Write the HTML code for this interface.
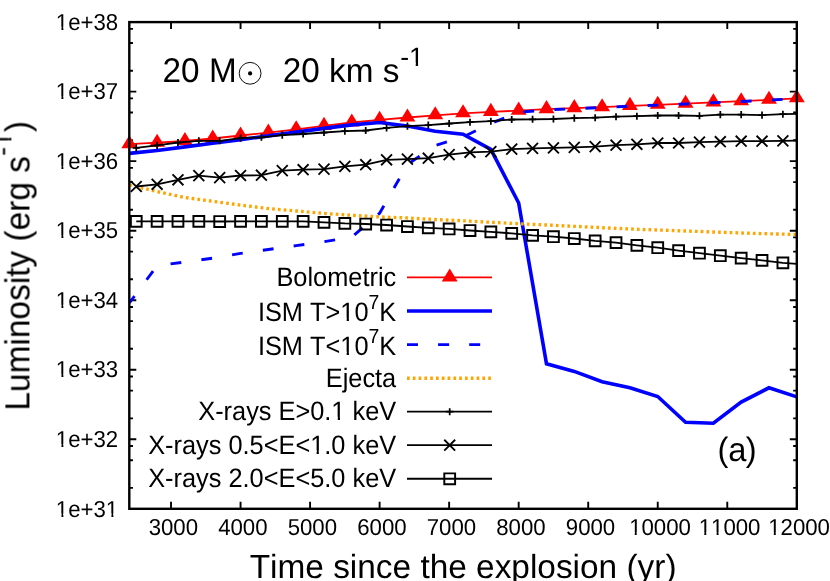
<!DOCTYPE html>
<html lang="en">
<head>
<meta charset="utf-8">
<title>Luminosity vs. time since the explosion</title>
<style>
html,body{margin:0;padding:0;background:#fff;}
body{width:830px;height:581px;overflow:hidden;font-family:"Liberation Sans",sans-serif;}
svg{display:block;}
</style>
</head>
<body>
<svg width="830" height="581" viewBox="0 0 830 581" role="img" aria-label="Luminosity versus time since the explosion">
<rect width="830" height="581" fill="#fff"/>
<g font-family='"Liberation Sans", sans-serif' fill="#000" text-rendering="geometricPrecision">
<path fill="none" stroke="#000" stroke-width="1.9" d="M129.3 487.87h3.65M796.8 487.87h-3.65M129.3 460.2h3.65M796.8 460.2h-3.65M129.3 446.01h3.65M796.8 446.01h-3.65M129.3 439.27h7M796.8 439.27h-7M129.3 418.34h3.65M796.8 418.34h-3.65M129.3 390.67h3.65M796.8 390.67h-3.65M129.3 376.48h3.65M796.8 376.48h-3.65M129.3 369.74h7M796.8 369.74h-7M129.3 348.81h3.65M796.8 348.81h-3.65M129.3 321.14h3.65M796.8 321.14h-3.65M129.3 306.95h3.65M796.8 306.95h-3.65M129.3 300.21h7M796.8 300.21h-7M129.3 279.28h3.65M796.8 279.28h-3.65M129.3 251.62h3.65M796.8 251.62h-3.65M129.3 237.42h3.65M796.8 237.42h-3.65M129.3 230.69h7M796.8 230.69h-7M129.3 209.76h3.65M796.8 209.76h-3.65M129.3 182.09h3.65M796.8 182.09h-3.65M129.3 167.9h3.65M796.8 167.9h-3.65M129.3 161.16h7M796.8 161.16h-7M129.3 140.23h3.65M796.8 140.23h-3.65M129.3 112.56h3.65M796.8 112.56h-3.65M129.3 98.37h3.65M796.8 98.37h-3.65M129.3 91.63h7M796.8 91.63h-7M129.3 70.7h3.65M796.8 70.7h-3.65M129.3 43.03h3.65M796.8 43.03h-3.65M129.3 28.84h3.65M796.8 28.84h-3.65M171.02 508.8v-7M171.02 22.1v7M240.55 508.8v-7M240.55 22.1v7M310.08 508.8v-7M310.08 22.1v7M379.61 508.8v-7M379.61 22.1v7M449.14 508.8v-7M449.14 22.1v7M518.67 508.8v-7M518.67 22.1v7M588.21 508.8v-7M588.21 22.1v7M657.74 508.8v-7M657.74 22.1v7M727.27 508.8v-7M727.27 22.1v7"/>
<polyline fill="none" stroke="#f00" stroke-width="1.8" points="129.3,144.2 157.11,142.7 184.93,141 212.74,138.5 240.55,135.5 268.36,132.6 296.18,129.3 323.99,125.9 351.8,122.5 379.61,119.8 407.43,117.5 435.24,115.3 463.05,113.3 490.86,111.9 518.67,110.6 546.49,109.1 574.3,108.1 602.11,107.2 629.92,105.9 657.74,104.8 685.55,103.7 713.36,102.4 741.17,101.2 768.99,99.8 796.8,98.3"/>
<g fill="#f00"><path d="M129.3 135.13L121.35 148.25L137.25 148.25Z"/><path d="M157.11 133.63L149.16 146.75L165.06 146.75Z"/><path d="M184.93 131.93L176.98 145.05L192.88 145.05Z"/><path d="M212.74 129.43L204.79 142.55L220.69 142.55Z"/><path d="M240.55 126.43L232.6 139.55L248.5 139.55Z"/><path d="M268.36 123.53L260.41 136.65L276.31 136.65Z"/><path d="M296.18 120.23L288.23 133.35L304.12 133.35Z"/><path d="M323.99 116.83L316.04 129.95L331.94 129.95Z"/><path d="M351.8 113.43L343.85 126.55L359.75 126.55Z"/><path d="M379.61 110.73L371.66 123.85L387.56 123.85Z"/><path d="M407.43 108.43L399.48 121.55L415.38 121.55Z"/><path d="M435.24 106.23L427.29 119.35L443.19 119.35Z"/><path d="M463.05 104.23L455.1 117.35L471 117.35Z"/><path d="M490.86 102.83L482.91 115.95L498.81 115.95Z"/><path d="M518.67 101.53L510.72 114.65L526.62 114.65Z"/><path d="M546.49 100.03L538.54 113.15L554.44 113.15Z"/><path d="M574.3 99.03L566.35 112.15L582.25 112.15Z"/><path d="M602.11 98.13L594.16 111.25L610.06 111.25Z"/><path d="M629.92 96.83L621.97 109.95L637.88 109.95Z"/><path d="M657.74 95.73L649.79 108.85L665.69 108.85Z"/><path d="M685.55 94.63L677.6 107.75L693.5 107.75Z"/><path d="M713.36 93.33L705.41 106.45L721.31 106.45Z"/><path d="M741.17 92.13L733.22 105.25L749.12 105.25Z"/><path d="M768.99 90.73L761.04 103.85L776.94 103.85Z"/><path d="M796.8 89.23L788.85 102.35L804.75 102.35Z"/></g>
<polyline fill="none" stroke="#00f" stroke-width="3.6" stroke-linejoin="miter" points="129.3,153.4 157.11,150.5 184.93,146.9 212.74,143.3 240.55,139.6 268.36,135.9 296.18,132.1 323.99,128.4 351.8,124.9 379.61,122.5 407.43,126.1 435.24,131.2 463.05,134.2 490.86,149.4 518.67,203 546.49,363.7 574.3,371.4 602.11,381.7 629.92,387.8 657.74,396.5 685.55,422.3 713.36,423.3 741.17,402.1 768.99,387.8 796.8,396.9"/>
<polyline fill="none" stroke="#00f" stroke-width="2.9" stroke-dasharray="10.8 20.3" stroke-dashoffset="2.1" points="129.3,303 157.11,265.7 184.93,262 212.74,258.1 240.55,253.4 268.36,249.5 296.18,245.6 323.99,241.7 351.8,237 379.61,213.2 407.43,164.5 435.24,145.5 463.05,137 490.86,123.5 518.67,112.3 546.49,109.9 574.3,108.7 602.11,107.5 629.92,106.2 657.74,105.1 685.55,104 713.36,102.7 741.17,101.5 768.99,100.1 796.8,98.6"/>
<polyline fill="none" stroke="#ffa500" stroke-width="3.35" stroke-dasharray="2.7 3.1" points="129.3,184.9 157.11,191.6 184.93,197.5 212.74,201.3 240.55,205.1 268.36,208.6 296.18,211 323.99,213.4 351.8,215.3 379.61,216.9 407.43,218 435.24,219.5 463.05,220.8 490.86,222.3 518.67,223.7 546.49,225 574.3,226.3 602.11,227.7 629.92,229 657.74,230 685.55,231 713.36,232 741.17,233 768.99,233.8 796.8,234.5"/>
<polyline fill="none" stroke="#000" stroke-width="1.8" points="136.25,147.9 157.11,145.4 177.97,142.5 198.83,140.8 219.69,140.8 240.55,138.1 261.41,137.3 282.27,135.1 303.13,134 323.99,132.5 344.85,131.15 365.71,130.5 386.57,127.9 407.43,126.1 428.28,125.1 449.14,123.5 470,122.2 490.86,121.2 511.72,119.5 532.58,119.3 553.44,119 574.3,118.1 595.16,117.7 616.02,116.7 636.88,116.2 657.74,115.5 678.6,115.5 699.46,115.8 720.32,114.6 741.17,114.6 762.03,115.1 782.89,114.2 796.8,113.9"/>
<path fill="none" stroke="#000" stroke-width="1.75" d="M136.25 144.35V151.45M132.7 147.9H139.8M157.11 141.85V148.95M153.56 145.4H160.66M177.97 138.95V146.05M174.42 142.5H181.52M198.83 137.25V144.35M195.28 140.8H202.38M219.69 137.25V144.35M216.14 140.8H223.24M240.55 134.55V141.65M237 138.1H244.1M261.41 133.75V140.85M257.86 137.3H264.96M282.27 131.55V138.65M278.72 135.1H285.82M303.13 130.45V137.55M299.58 134H306.68M323.99 128.95V136.05M320.44 132.5H327.54M344.85 127.6V134.7M341.3 131.15H348.4M365.71 126.95V134.05M362.16 130.5H369.26M386.57 124.35V131.45M383.02 127.9H390.12M407.43 122.55V129.65M403.88 126.1H410.98M428.28 121.55V128.65M424.73 125.1H431.83M449.14 119.95V127.05M445.59 123.5H452.69M470 118.65V125.75M466.45 122.2H473.55M490.86 117.65V124.75M487.31 121.2H494.41M511.72 115.95V123.05M508.17 119.5H515.27M532.58 115.75V122.85M529.03 119.3H536.13M553.44 115.45V122.55M549.89 119H556.99M574.3 114.55V121.65M570.75 118.1H577.85M595.16 114.15V121.25M591.61 117.7H598.71M616.02 113.15V120.25M612.47 116.7H619.57M636.88 112.65V119.75M633.33 116.2H640.43M657.74 111.95V119.05M654.19 115.5H661.29M678.6 111.95V119.05M675.05 115.5H682.15M699.46 112.25V119.35M695.91 115.8H703.01M720.32 111.05V118.15M716.77 114.6H723.87M741.17 111.05V118.15M737.62 114.6H744.72M762.03 111.55V118.65M758.48 115.1H765.58M782.89 110.65V117.75M779.34 114.2H786.44"/>
<polyline fill="none" stroke="#000" stroke-width="1.8" points="136.25,186.5 157.11,184.3 177.97,179.8 198.83,175.6 219.69,177.6 240.55,175.5 261.41,175.2 282.27,170.6 303.13,169.7 323.99,169.1 344.85,166.4 365.71,164.7 386.57,159.8 407.43,159.1 428.28,158.2 449.14,154.6 470,152.3 490.86,151.6 511.72,149.1 532.58,148.4 553.44,147.9 574.3,147.4 595.16,146.6 616.02,145.2 636.88,144.3 657.74,143 678.6,143 699.46,142.1 720.32,141.7 741.17,141.2 762.03,141.2 782.89,140.9 796.8,140.7"/>
<path fill="none" stroke="#000" stroke-width="1.85" d="M130.8 181.05L141.7 191.95M130.8 191.95L141.7 181.05M151.66 178.85L162.56 189.75M151.66 189.75L162.56 178.85M172.52 174.35L183.42 185.25M172.52 185.25L183.42 174.35M193.38 170.15L204.28 181.05M193.38 181.05L204.28 170.15M214.24 172.15L225.14 183.05M214.24 183.05L225.14 172.15M235.1 170.05L246 180.95M235.1 180.95L246 170.05M255.96 169.75L266.86 180.65M255.96 180.65L266.86 169.75M276.82 165.15L287.72 176.05M276.82 176.05L287.72 165.15M297.68 164.25L308.58 175.15M297.68 175.15L308.58 164.25M318.54 163.65L329.44 174.55M318.54 174.55L329.44 163.65M339.4 160.95L350.3 171.85M339.4 171.85L350.3 160.95M360.26 159.25L371.16 170.15M360.26 170.15L371.16 159.25M381.12 154.35L392.02 165.25M381.12 165.25L392.02 154.35M401.98 153.65L412.88 164.55M401.98 164.55L412.88 153.65M422.83 152.75L433.73 163.65M422.83 163.65L433.73 152.75M443.69 149.15L454.59 160.05M443.69 160.05L454.59 149.15M464.55 146.85L475.45 157.75M464.55 157.75L475.45 146.85M485.41 146.15L496.31 157.05M485.41 157.05L496.31 146.15M506.27 143.65L517.17 154.55M506.27 154.55L517.17 143.65M527.13 142.95L538.03 153.85M527.13 153.85L538.03 142.95M547.99 142.45L558.89 153.35M547.99 153.35L558.89 142.45M568.85 141.95L579.75 152.85M568.85 152.85L579.75 141.95M589.71 141.15L600.61 152.05M589.71 152.05L600.61 141.15M610.57 139.75L621.47 150.65M610.57 150.65L621.47 139.75M631.43 138.85L642.33 149.75M631.43 149.75L642.33 138.85M652.29 137.55L663.19 148.45M652.29 148.45L663.19 137.55M673.15 137.55L684.05 148.45M673.15 148.45L684.05 137.55M694.01 136.65L704.91 147.55M694.01 147.55L704.91 136.65M714.87 136.25L725.77 147.15M714.87 147.15L725.77 136.25M735.72 135.75L746.62 146.65M735.72 146.65L746.62 135.75M756.58 135.75L767.48 146.65M756.58 146.65L767.48 135.75M777.44 135.45L788.34 146.35M777.44 146.35L788.34 135.45"/>
<polyline fill="none" stroke="#000" stroke-width="1.8" points="136.25,221.4 157.11,221.4 177.97,221.4 198.83,221.4 219.69,221.5 240.55,221.3 261.41,221.3 282.27,221.3 303.13,221.3 323.99,222.3 344.85,223.4 365.71,224 386.57,225 407.43,226.5 428.28,227.8 449.14,228.95 470,230.5 490.86,231.9 511.72,233.4 532.58,235.3 553.44,236.7 574.3,238.5 595.16,240.8 616.02,242.6 636.88,245.3 657.74,247.7 678.6,250.6 699.46,253.2 720.32,255.7 741.17,258.1 762.03,260.4 782.89,262.9 796.8,263.9"/>
<path fill="none" stroke="#000" stroke-width="1.95" d="M130.85 216H141.65V226.8H130.85ZM151.71 216H162.51V226.8H151.71ZM172.57 216H183.37V226.8H172.57ZM193.43 216H204.23V226.8H193.43ZM214.29 216.1H225.09V226.9H214.29ZM235.15 215.9H245.95V226.7H235.15ZM256.01 215.9H266.81V226.7H256.01ZM276.87 215.9H287.67V226.7H276.87ZM297.73 215.9H308.53V226.7H297.73ZM318.59 216.9H329.39V227.7H318.59ZM339.45 218H350.25V228.8H339.45ZM360.31 218.6H371.11V229.4H360.31ZM381.17 219.6H391.97V230.4H381.17ZM402.03 221.1H412.82V231.9H402.03ZM422.88 222.4H433.68V233.2H422.88ZM443.74 223.55H454.54V234.35H443.74ZM464.6 225.1H475.4V235.9H464.6ZM485.46 226.5H496.26V237.3H485.46ZM506.32 228H517.12V238.8H506.32ZM527.18 229.9H537.98V240.7H527.18ZM548.04 231.3H558.84V242.1H548.04ZM568.9 233.1H579.7V243.9H568.9ZM589.76 235.4H600.56V246.2H589.76ZM610.62 237.2H621.42V248H610.62ZM631.48 239.9H642.28V250.7H631.48ZM652.34 242.3H663.14V253.1H652.34ZM673.2 245.2H684V256H673.2ZM694.06 247.8H704.86V258.6H694.06ZM714.92 250.3H725.72V261.1H714.92ZM735.77 252.7H746.57V263.5H735.77ZM756.63 255H767.43V265.8H756.63ZM777.49 257.5H788.29V268.3H777.49Z"/>
<path fill="none" d="M407 277.45H492" stroke="#f00" stroke-width="1.8"/>
<g fill="#f00"><path d="M449.7 268.38L441.75 281.5L457.65 281.5Z"/></g>
<path fill="none" d="M407 311.05H492" stroke="#00f" stroke-width="3.6"/>
<path fill="none" d="M407 344.6H492" stroke="#00f" stroke-width="2.9" stroke-dasharray="11 20.1"/>
<path fill="none" d="M407 378.2H492" stroke="#ffa500" stroke-width="3.35" stroke-dasharray="2.7 3.1"/>
<path fill="none" d="M407 411.7H492" stroke="#000" stroke-width="1.8"/>
<path fill="none" stroke="#000" stroke-width="1.75" d="M449.7 408.15V415.25M446.15 411.7H453.25"/>
<path fill="none" d="M407 445.2H492" stroke="#000" stroke-width="1.8"/>
<path fill="none" stroke="#000" stroke-width="1.85" d="M444.25 439.75L455.15 450.65M444.25 450.65L455.15 439.75"/>
<path fill="none" d="M407 478.75H492" stroke="#000" stroke-width="1.8"/>
<path fill="none" stroke="#000" stroke-width="1.95" d="M444.3 473.35H455.1V484.15H444.3Z"/>
<rect x="129.3" y="22.1" width="667.5" height="486.7" fill="none" stroke="#000" stroke-width="2.4"/>
<circle cx="250.1" cy="73.3" r="10.9" fill="none" stroke="#000" stroke-width="0.95"/>
<circle cx="250.1" cy="73.4" r="2.1"/>
<g style="filter:grayscale(1);font-kerning:none">
<g transform="translate(396.2 285.85) scale(1 1.05)"><text x="-119.74" font-size="25.35">Bolometric</text></g>
<g transform="translate(396.2 321.45) scale(1 1.05)"><text x="-138.29" font-size="25.35">ISM T&gt;10</text><text x="-27.7" y="-11.47" font-size="19.4">7</text><text x="-16.91" font-size="25.35">K</text><g fill="#fff"><rect x="-55.16" y="-3.14" width="5.64" height="4.34"/><rect x="-47.28" y="-3.14" width="5.45" height="4.34"/></g></g>
<g transform="translate(396.2 354.8) scale(1 1.05)"><text x="-138.29" font-size="25.35">ISM T&lt;10</text><text x="-27.7" y="-11.47" font-size="19.4">7</text><text x="-16.91" font-size="25.35">K</text><g fill="#fff"><rect x="-55.16" y="-3.14" width="5.64" height="4.34"/><rect x="-47.28" y="-3.14" width="5.45" height="4.34"/></g></g>
<g transform="translate(396.2 386.6) scale(1 1.05)"><text x="-70.46" font-size="25.35">Ejecta</text></g>
<g transform="translate(396.2 420.1) scale(1 1.05)"><text x="-197.96" font-size="25.35">X-rays E&gt;0.1 keV</text><g fill="#fff"><rect x="-64.09" y="-3.14" width="5.64" height="4.34"/><rect x="-56.21" y="-3.14" width="5.45" height="4.34"/></g></g>
<g transform="translate(396.2 453.6) scale(1 1.05)"><text x="-248" font-size="25.35">X-rays 0.5&lt;E&lt;1.0 keV</text><g fill="#fff"><rect x="-85.23" y="-3.14" width="5.64" height="4.34"/><rect x="-77.35" y="-3.14" width="5.45" height="4.34"/></g></g>
<g transform="translate(396.2 487.15) scale(1 1.05)"><text x="-248" font-size="25.35">X-rays 2.0&lt;E&lt;5.0 keV</text></g>
<g transform="translate(118.2 516.5) scale(1 1.04)"><text x="-62.35" font-size="22.2">1e+31</text><g fill="#fff"><rect x="-61.86" y="-2.91" width="5.09" height="4.11"/><rect x="-54.81" y="-2.91" width="4.92" height="4.11"/><rect x="-11.86" y="-2.91" width="5.09" height="4.11"/><rect x="-4.8" y="-2.91" width="4.92" height="4.11"/></g></g>
<g transform="translate(118.2 446.97) scale(1 1.04)"><text x="-62.35" font-size="22.2">1e+32</text><g fill="#fff"><rect x="-61.86" y="-2.91" width="5.09" height="4.11"/><rect x="-54.81" y="-2.91" width="4.92" height="4.11"/></g></g>
<g transform="translate(118.2 377.44) scale(1 1.04)"><text x="-62.35" font-size="22.2">1e+33</text><g fill="#fff"><rect x="-61.86" y="-2.91" width="5.09" height="4.11"/><rect x="-54.81" y="-2.91" width="4.92" height="4.11"/></g></g>
<g transform="translate(118.2 307.91) scale(1 1.04)"><text x="-62.35" font-size="22.2">1e+34</text><g fill="#fff"><rect x="-61.86" y="-2.91" width="5.09" height="4.11"/><rect x="-54.81" y="-2.91" width="4.92" height="4.11"/></g></g>
<g transform="translate(118.2 238.39) scale(1 1.04)"><text x="-62.35" font-size="22.2">1e+35</text><g fill="#fff"><rect x="-61.86" y="-2.91" width="5.09" height="4.11"/><rect x="-54.81" y="-2.91" width="4.92" height="4.11"/></g></g>
<g transform="translate(118.2 168.86) scale(1 1.04)"><text x="-62.35" font-size="22.2">1e+36</text><g fill="#fff"><rect x="-61.86" y="-2.91" width="5.09" height="4.11"/><rect x="-54.81" y="-2.91" width="4.92" height="4.11"/></g></g>
<g transform="translate(118.2 99.33) scale(1 1.04)"><text x="-62.35" font-size="22.2">1e+37</text><g fill="#fff"><rect x="-61.86" y="-2.91" width="5.09" height="4.11"/><rect x="-54.81" y="-2.91" width="4.92" height="4.11"/></g></g>
<g transform="translate(118.2 29.8) scale(1 1.04)"><text x="-62.35" font-size="22.2">1e+38</text><g fill="#fff"><rect x="-61.86" y="-2.91" width="5.09" height="4.11"/><rect x="-54.81" y="-2.91" width="4.92" height="4.11"/></g></g>
<g transform="translate(173.32 535.4) scale(1 1.04)"><text x="-24.69" font-size="22.2">3000</text></g>
<g transform="translate(242.85 535.4) scale(1 1.04)"><text x="-24.69" font-size="22.2">4000</text></g>
<g transform="translate(312.38 535.4) scale(1 1.04)"><text x="-24.69" font-size="22.2">5000</text></g>
<g transform="translate(381.91 535.4) scale(1 1.04)"><text x="-24.69" font-size="22.2">6000</text></g>
<g transform="translate(451.44 535.4) scale(1 1.04)"><text x="-24.69" font-size="22.2">7000</text></g>
<g transform="translate(520.97 535.4) scale(1 1.04)"><text x="-24.69" font-size="22.2">8000</text></g>
<g transform="translate(590.51 535.4) scale(1 1.04)"><text x="-24.69" font-size="22.2">9000</text></g>
<g transform="translate(660.04 535.4) scale(1 1.04)"><text x="-30.87" font-size="22.2">10000</text><g fill="#fff"><rect x="-30.38" y="-2.91" width="5.09" height="4.11"/><rect x="-23.32" y="-2.91" width="4.92" height="4.11"/></g></g>
<g transform="translate(729.57 535.4) scale(1 1.04)"><text x="-30.87" font-size="22.2">11000</text><g fill="#fff"><rect x="-30.38" y="-2.91" width="5.09" height="4.11"/><rect x="-23.32" y="-2.91" width="4.92" height="4.11"/><rect x="-18.03" y="-2.91" width="5.09" height="4.11"/><rect x="-10.98" y="-2.91" width="4.92" height="4.11"/></g></g>
<g transform="translate(799.1 535.4) scale(1 1.04)"><text x="-30.87" font-size="22.2">12000</text><g fill="#fff"><rect x="-30.38" y="-2.91" width="5.09" height="4.11"/><rect x="-23.32" y="-2.91" width="4.92" height="4.11"/></g></g>
<g transform="translate(249.7 577.7)"><text x="0" font-size="33.4">Time since the explosion (yr)</text></g>
<g transform="translate(29.1 410.6) rotate(-90) scale(1 1.04)"><text x="0" font-size="33.45">Luminosity (erg s</text><text x="254.68" y="-17.22" font-size="26.7">-1</text><text x="278.42" font-size="33.45">)</text><g fill="#fff"><rect x="264.41" y="-20.47" width="5.88" height="4.44"/><rect x="272.65" y="-20.47" width="5.67" height="4.44"/></g></g>
<g transform="translate(162.6 81.8) scale(1 1.03)"><text x="0" font-size="33.3">20 M</text></g>
<g transform="translate(282.8 81.8) scale(1 1.03)"><text x="0" font-size="33.3">20 </text></g>
<g transform="translate(329.09 81.8)"><text x="0" font-size="33.3">km s</text><text x="71.09" y="-15.9" font-size="26.6">-1</text><g fill="#fff"><rect x="80.78" y="-19.14" width="5.86" height="4.44"/><rect x="88.99" y="-19.14" width="5.65" height="4.44"/></g></g>
<g transform="translate(717.5 461.3) scale(1 1.03)"><text x="0" font-size="32.7">(</text><text x="10.69" font-size="32.7">a</text><text x="28.18" font-size="32.7">)</text></g>
</g>
</g></svg>
</body>
</html>
